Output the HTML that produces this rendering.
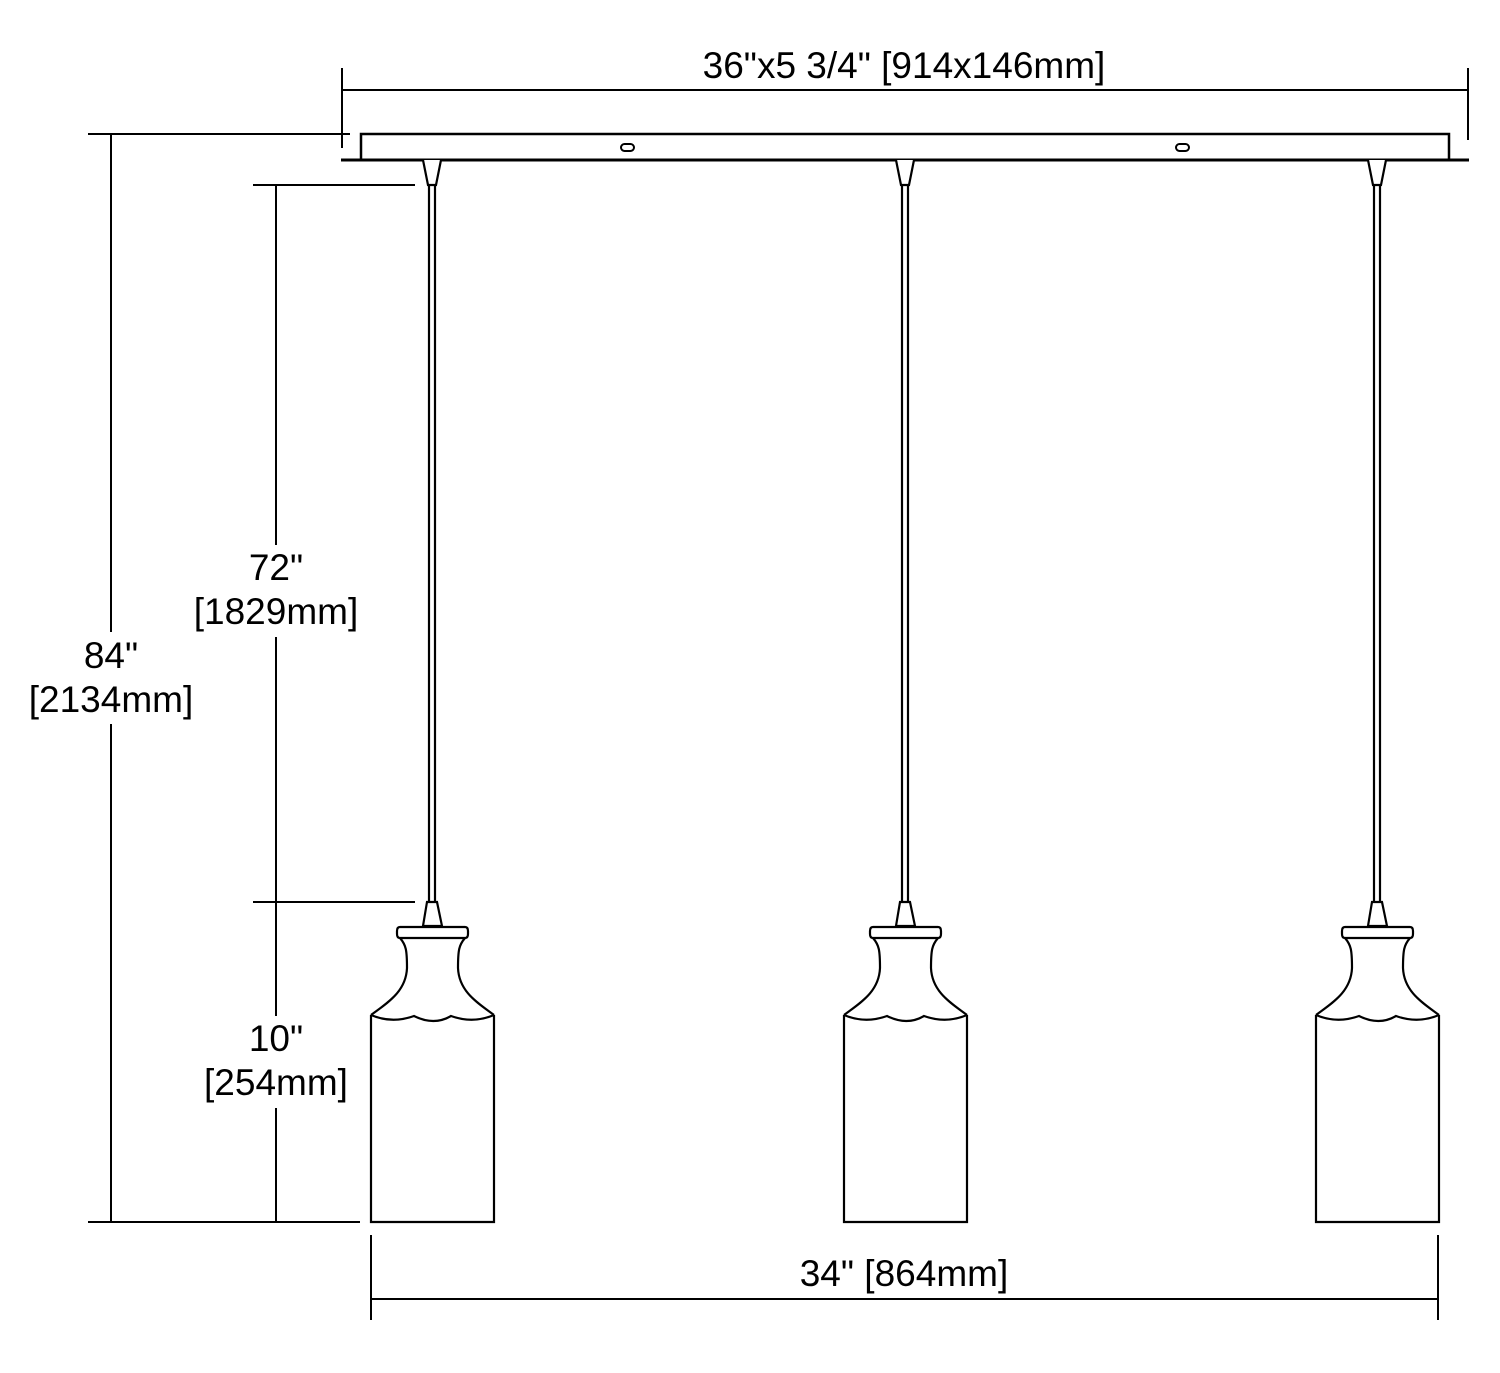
<!DOCTYPE html>
<html><head><style>
html,body{margin:0;padding:0;background:#fff;}
svg{display:block;}
text{font-family:"Liberation Sans",sans-serif;font-size:37px;fill:#000;text-anchor:middle;}
</style></head><body>
<svg width="1500" height="1373" viewBox="0 0 1500 1373" xmlns="http://www.w3.org/2000/svg">
<defs>
<g id="pend" fill="none" stroke="#000" stroke-width="2.2">
  <path d="M-9,160 L-4,185 L4,185 L9,160" fill="#fff"/>
  <line x1="-3" y1="185" x2="-3" y2="902"/>
  <line x1="3" y1="185" x2="3" y2="902"/>
  <path d="M-5,902 L-9,926 L10,926 L5,902 Z" fill="#fff"/>
  <path d="M-32,927 L33,927 Q36,927 36,931 L36,934 Q36,938 33,938 L-32,938 Q-35,938 -35,934 L-35,931 Q-35,927 -32,927 Z"/>
  <path d="M-32,938 C-26,945 -25,950 -25,968 C-26,992 -45,1003 -61,1015"/>
  <path d="M33,938 C27,945 26,950 26,968 C27,992 46,1003 62,1015"/>
  <path d="M-61,1015 Q-40,1024 -18,1016 Q2,1026 19,1016 Q41,1024 62,1015"/>
  <path d="M-61,1015 L-61,1222 L62,1222 L62,1015"/>
</g>
</defs>
<g stroke="#000" fill="none">
  <line x1="342" y1="68" x2="342" y2="148" stroke-width="2"/>
  <line x1="1468" y1="68" x2="1468" y2="140" stroke-width="2"/>
  <line x1="342" y1="90" x2="1468" y2="90" stroke-width="2"/>
  <path d="M361,160 L361,134 L1449,134 L1449,160" stroke-width="2.5"/>
  <line x1="341" y1="160" x2="1469" y2="160" stroke-width="3"/>
  <rect x="621" y="144" width="13" height="7" rx="3.5" stroke-width="2"/>
  <rect x="1176" y="144" width="13" height="7" rx="3.5" stroke-width="2"/>
  <line x1="88" y1="134" x2="350" y2="134" stroke-width="2"/>
  <line x1="88" y1="1222" x2="360" y2="1222" stroke-width="2"/>
  <line x1="111" y1="134" x2="111" y2="1222" stroke-width="2"/>
  <line x1="253" y1="185" x2="415" y2="185" stroke-width="2"/>
  <line x1="253" y1="902" x2="415" y2="902" stroke-width="2"/>
  <line x1="276" y1="185" x2="276" y2="1222" stroke-width="2"/>
  <line x1="371" y1="1235" x2="371" y2="1320" stroke-width="2"/>
  <line x1="1438" y1="1235" x2="1438" y2="1320" stroke-width="2"/>
  <line x1="371" y1="1299" x2="1438" y2="1299" stroke-width="2"/>
</g>
<use href="#pend" x="432" y="0"/>
<use href="#pend" x="905" y="0"/>
<use href="#pend" x="1377" y="0"/>
<g fill="#fff">
  <rect x="185" y="545" width="182" height="92"/>
  <rect x="22" y="632" width="178" height="92"/>
  <rect x="195" y="1016" width="162" height="92"/>
</g>
<text x="904" y="78">36"x5 3/4" [914x146mm]</text>
<text x="276" y="580">72"</text>
<text x="276" y="624">[1829mm]</text>
<text x="111" y="668">84"</text>
<text x="111" y="712">[2134mm]</text>
<text x="276" y="1051">10"</text>
<text x="276" y="1095">[254mm]</text>
<text x="904" y="1286">34" [864mm]</text>
</svg>
</body></html>
